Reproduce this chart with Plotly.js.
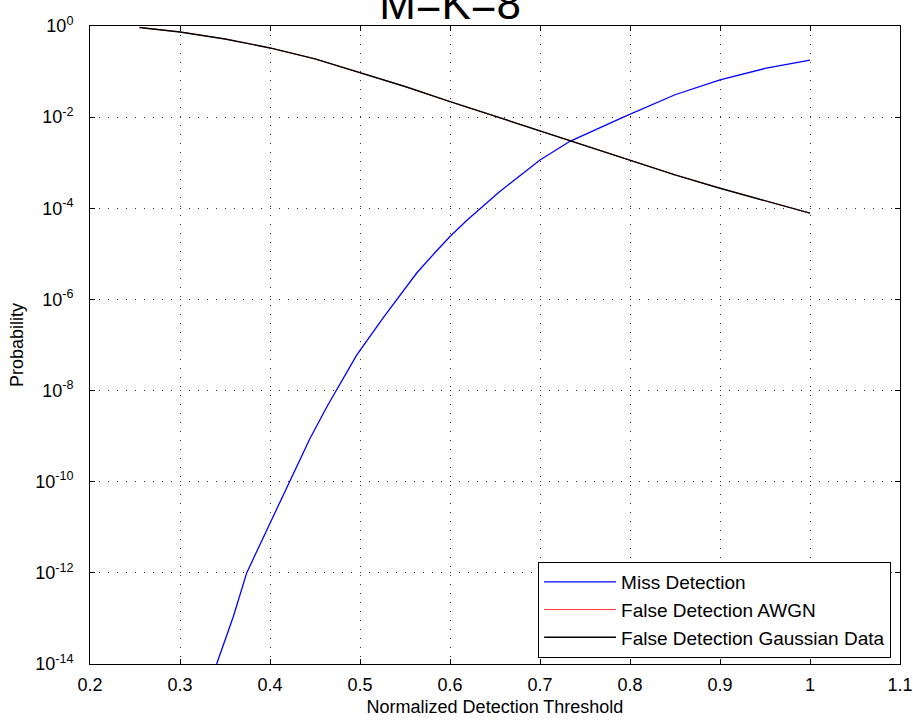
<!DOCTYPE html>
<html>
<head>
<meta charset="utf-8">
<script src="https://cdn.plot.ly/plotly-3.0.1.min.js"></script>
<style>html,body{margin:0;padding:0;background:#fff;}#chart{width:913px;height:721px;}</style>
</head>
<body>
<div id="chart"></div>
<script>
// Miss Detection (blue)
const missX = [0.3407, 0.3593, 0.3741, 0.3870, 0.3993, 0.4111, 0.4222, 0.4444, 0.4640, 0.4735, 0.4963, 0.5259, 0.5410, 0.5630, 0.5852, 0.6000, 0.6185, 0.6335, 0.6537, 0.6667, 0.70, 0.7333, 0.7926, 0.85, 0.90, 0.95, 1.00];
const missY = [1.0e-14, 1.1e-13, 1.0e-12, 3.5e-12, 1.17e-11, 3.5e-11, 1.0e-10, 8.9e-10, 4.7e-9, 1.0e-8, 6.0e-8, 4.0e-7, 1.0e-6, 3.8e-6, 1.17e-5, 2.4e-5, 5.4e-5, 1.0e-4, 2.2e-4, 3.5e-4, 1.15e-3, 2.95e-3, 1.0e-2, 3.1e-2, 6.6e-2, 0.117, 0.178];
// False Detection AWGN (red, hidden under the black curve)
const awgnX = [0.255, 0.30, 0.35, 0.40, 0.45, 0.50, 0.55, 0.60, 0.65, 0.70, 0.75, 0.80, 0.85, 0.90, 0.95, 1.00];
const awgnY = [0.93, 0.74, 0.52, 0.33, 0.19, 0.095, 0.047, 0.022, 0.0105, 0.0050, 0.0023, 0.0011, 5.4e-4, 2.75e-4, 1.45e-4, 7.8e-5];
// False Detection Gaussian Data (black)
const gaussX = [0.255, 0.30, 0.35, 0.40, 0.45, 0.50, 0.55, 0.60, 0.65, 0.70, 0.75, 0.80, 0.85, 0.90, 0.95, 1.00];
const gaussY = [0.93, 0.74, 0.52, 0.33, 0.19, 0.095, 0.047, 0.022, 0.0105, 0.0050, 0.0023, 0.0011, 5.4e-4, 2.75e-4, 1.45e-4, 7.8e-5];

const xTickVals = [0.2, 0.3, 0.4, 0.5, 0.6, 0.7, 0.8, 0.9, 1.0, 1.1];
const xTickText = ["0.2", "0.3", "0.4", "0.5", "0.6", "0.7", "0.8", "0.9", "1", "1.1"];
const yTickVals = [1, 1e-2, 1e-4, 1e-6, 1e-8, 1e-10, 1e-12, 1e-14];
const yTickText = ["10<sup>0</sup>", "10<sup>-2</sup>", "10<sup>-4</sup>", "10<sup>-6</sup>", "10<sup>-8</sup>", "10<sup>-10</sup>", "10<sup>-12</sup>", "10<sup>-14</sup>"];

const font = "Liberation Sans, Arial, Helvetica, sans-serif";

const traces = [
  {x: missX, y: missY, name: "Miss Detection", mode: "lines", line: {color: "#0000ff", width: 1.3}},
  {x: awgnX, y: awgnY, name: "False Detection AWGN", mode: "lines", line: {color: "#ff0000", width: 0.8}},
  {x: gaussX, y: gaussY, name: "False Detection Gaussian Data", mode: "lines", line: {color: "#000000", width: 1.4}}
];

const axisCommon = {
  showline: true, mirror: "ticks", linecolor: "#000", linewidth: 1,
  ticks: "inside", ticklen: 5, tickcolor: "#000", tickwidth: 1,
  showgrid: true, gridcolor: "#333", gridwidth: 1, griddash: "1px,8px",
  zeroline: false, tickfont: {family: font, size: 18, color: "#000"}
};

const layout = {
  width: 913, height: 721,
  paper_bgcolor: "#fff", plot_bgcolor: "#fff",
  margin: {l: 90, r: 13, t: 26, b: 57},
  showlegend: true,
  title: {text: "M=K=8", font: {family: font, size: 44, color: "#000"}, xref: "container", x: 0.493, yref: "container", y: 0.9743, yanchor: "bottom"},
  xaxis: Object.assign({}, axisCommon, {
    range: [0.2, 1.1], tickvals: xTickVals, ticktext: xTickText, ticklabelstandoff: 4,
    title: {text: "Normalized Detection Threshold", font: {family: font, size: 18, color: "#000"}, standoff: 6}
  }),
  yaxis: Object.assign({}, axisCommon, {
    type: "log", range: [-14, 0], tickvals: yTickVals, ticktext: yTickText, ticklabelstandoff: 12,
    title: {text: "Probability", font: {family: font, size: 18, color: "#000"}, standoff: 6}
  }),
  legend: {
    x: 0.989, y: 0.0094, xanchor: "right", yanchor: "bottom",
    bgcolor: "#fff", bordercolor: "#000", borderwidth: 1, itemwidth: 72,
    font: {family: font, size: 19, color: "#000"}
  }
};

Plotly.newPlot("chart", traces, layout, {displayModeBar: false, staticPlot: true});
</script>
</body>
</html>
